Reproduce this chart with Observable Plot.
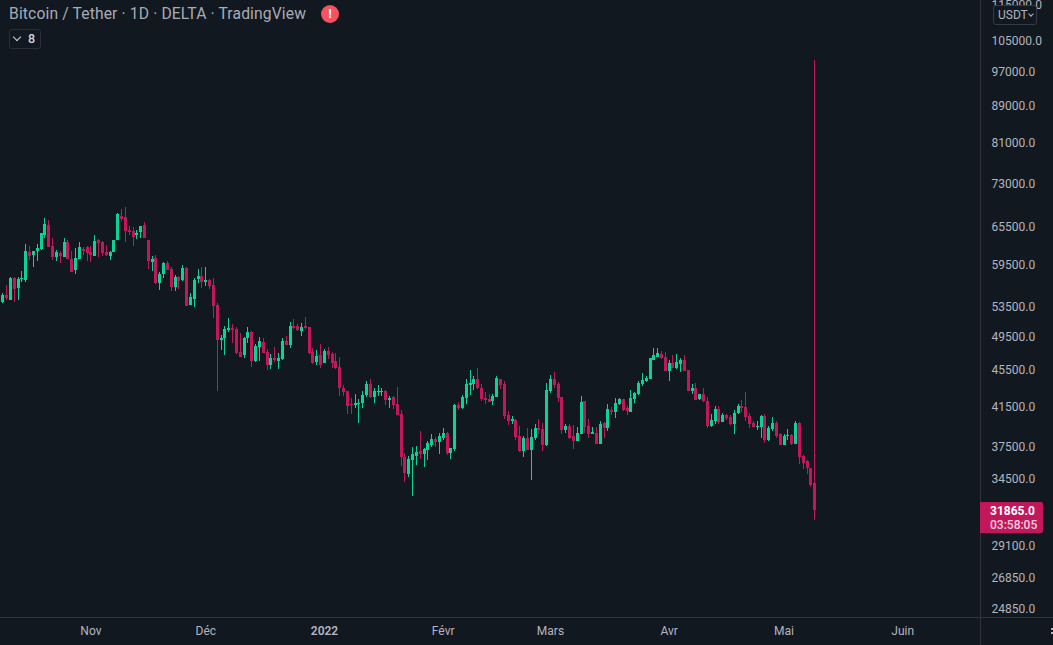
<!DOCTYPE html>
<html><head><meta charset="utf-8">
<script src="https://cdn.jsdelivr.net/npm/d3@7"></script>
<script src="https://cdn.jsdelivr.net/npm/@observablehq/plot@0.6"></script>
<style>
html,body{margin:0;padding:0;background:#121820;overflow:hidden}
#wrap{position:relative;width:1053px;height:645px;font-family:Roboto,sans-serif;overflow:hidden}
#wrap svg{display:block}
.abs{position:absolute;white-space:nowrap;box-sizing:border-box}
</style></head><body>
<div id="wrap"></div>
<script>
const directions =
"GRGRGGGRGG"+"GGRRGRGRRG"+"GRRRGRRRGG"+"GRRRRGGRRG"+"RGGRRGRGRG"+"GGRGRRRGGG"+"RRRGGRGGRR"+"GRGGRGRRGR"+
"RRGRGRRRRR"+"RRGGGGRGGG"+"RGRRRRGGGR"+"GGGRGGRGGR"+"GGGGRRRRGG"+"RRRGRRGRGG"+"RRGGRRRGRR"+"GGRRGRGRGR"+
"GGRRGGGGGG"+"GGRRGRGGRR"+"GRGRRGGRGR"+"RGGRRRRGGR"+"GGRRGGRGRR"+"RRR";
const highs = [
55250,56390,57540,57540,57540,58420,62570,62250,61470,62570,
64340,66830,66490,63530,61620,61470,63530,63200,61470,61940,
62880,62090,62250,62250,64020,63360,63040,62410,61470,63200,
67690,68380,68730,65490,65330,64830,65490,66160,63200,60690,
60850,58280,59770,59920,59020,57840,57690,59320,59020,55250,
57390,58720,59020,59020,57250,57390,53860,49660,50810,51850,
51070,50680,49910,49410,50680,50160,48540,49410,49280,47920,
47320,48170,47440,49280,49530,51330,51720,51070,51200,51980,
50680,48050,47800,48540,47920,48170,47560,47440,46970,43750,
43080,42330,42760,42220,43080,44190,44410,43410,43750,43410,
43190,42540,42540,43520,41050,36810,36530,37370,37470,38920,
37280,37950,38630,38330,38730,39220,38820,37280,41680,41900,
42650,44410,45440,44760,45670,43860,42970,42760,42760,44760,
44410,44190,40950,40430,40120,39420,38430,39220,39120,39620,
40120,39720,43970,44870,45210,44080,42430,39620,39620,39520,
39320,42540,42000,40120,39320,39320,39920,39820,41680,41370,
42330,42330,42220,41470,43190,42970,44190,45100,44760,46840,
48050,48050,47680,47560,46610,47200,47320,46840,47200,45440,
43860,43970,42760,43410,42430,40640,41470,41470,40740,40640,
40530,41050,41680,42110,42970,40740,39920,39920,40530,40640,
39420,40330,39920,38730,38630,39120,38630,39920,39820,36630,
36160,35430,99800];
const bodyTops = [
54970,54970,57390,57390,57250,57390,61470,61310,61470,61940,
64340,65830,65660,62250,61310,61160,62880,62880,60230,60380,
62090,61780,62090,61310,63040,63200,62880,61310,61310,63200,
67520,67170,67000,64830,64670,64340,65490,65660,63200,60230,
60380,57980,59620,59620,58720,57540,57540,58870,58870,54690,
57100,57690,57690,57100,57100,56390,53590,49280,50420,50550,
50550,50420,47560,49280,50040,50040,48290,48910,48780,47560,
46840,46840,46840,48910,48910,50810,50810,50810,50680,50810,
50680,47560,47090,47200,47680,47680,47320,46490,45790,43410,
43080,41680,41790,41790,42650,43860,43860,43080,43080,43080,
43080,42330,42430,41680,40640,36440,36250,36720,36900,37000,
37180,37750,38140,38140,38430,38730,38730,37280,41580,41580,
42430,43860,43970,44410,44410,43410,42330,42220,42540,44520,
44410,43860,40530,40120,40020,38430,38240,38240,38330,39220,
39220,39120,43190,44410,44410,43860,42430,39420,39420,38430,
38730,41900,42000,39420,38820,38730,39620,39720,41160,41050,
41790,42220,42220,41260,42330,42860,43970,44300,44520,46840,
47200,47440,47320,46970,46260,46260,46380,46610,46610,45440,
43410,43410,42760,42760,42000,40020,41160,41160,40530,40530,
40330,40740,41470,41470,41370,40430,39720,39420,40430,40430,
39220,39720,39720,38630,38430,38530,38530,39720,39720,36530,
36070,35430,34110];
const bodyBottoms = [
54000,54550,54270,55810,55950,57250,57100,60690,60850,61470,
61780,64020,62090,60540,60540,60690,60540,60230,58280,58570,
60230,61470,61160,60850,60690,62730,61160,60850,60690,61310,
63200,66660,64670,64510,63690,64020,64510,63530,59920,59770,
56670,56670,57980,58570,56100,56100,56960,57100,53450,53590,
54410,57250,56810,56810,56240,53450,49030,49030,49280,50290,
50290,47440,46970,47200,49280,46490,46490,48170,47440,46030,
46030,46610,46490,46730,48420,48420,50550,50290,50160,50550,
47440,46260,46380,46030,46260,47200,46260,45670,43410,42970,
41470,41580,41580,41680,41790,42650,42430,42430,42970,42970,
42110,42110,41580,40530,36440,34990,34900,36160,36530,36720,
36720,37090,37560,37850,37850,38240,36810,36810,37180,41260,
41260,42330,43750,43860,43410,42220,42110,41900,42000,42430,
43750,40430,39920,39920,38330,37000,37000,37090,37090,38240,
39020,37560,37560,43080,43750,42330,39020,39020,38240,37950,
37950,38630,39320,38630,38630,37660,37660,39220,39220,40840,
40840,41680,41050,40950,40840,42220,42760,43860,44190,44410,
46610,46970,46840,45330,45330,45670,45670,46140,45330,43080,
43080,42110,42220,42000,39420,39420,39920,39820,39820,40220,
39620,39620,40740,41260,40330,39620,39320,39320,39320,38040,
38040,39120,38430,37560,37560,38430,37660,37660,36440,35890,
35430,33940,31865];
const lows = [
53860,54270,54270,54000,54270,56810,56810,60070,59020,59920,
61620,63530,62090,60070,59920,59620,60540,60230,58280,57980,
60230,60850,59920,59770,60690,60540,60690,60690,60070,61310,
63200,66330,62880,64020,62250,63360,63530,63530,58720,58420,
56530,55670,57390,58570,55530,55530,55810,56960,53450,53590,
53320,56670,55950,56240,55810,51850,43080,47800,47200,50040,
48660,47320,46970,46840,48660,45790,46380,46490,47440,45440,
45560,46380,45560,46610,48420,48050,50420,50160,49530,50420,
47320,46140,46030,45670,46260,46730,45670,45560,42540,42540,
40640,40640,41260,39720,41260,42430,42330,41790,42540,42540,
41580,41260,41160,40530,35610,34200,34640,33000,35700,36250,
35510,36160,37370,37370,36720,38040,36630,36250,37000,41050,
41160,41680,42650,43190,43300,42000,41680,41900,41580,42430,
43300,40120,39520,39620,38040,36900,36440,37090,34370,38040,
38630,37000,37470,42860,43410,41900,38630,38730,38140,37180,
37950,38630,38730,38240,38630,37660,37660,38240,38920,40530,
40220,41580,40950,40530,40840,41790,42650,43640,44080,44410,
46610,46970,46730,45330,44190,45670,45560,45210,45330,43080,
42760,42110,42110,41900,39220,39320,39620,39620,39820,40020,
39520,38630,40640,40840,39920,39220,39320,39020,38240,37750,
37950,38920,38240,37560,37560,38040,37560,37660,35800,35340,
34900,33770,31050];
const firstDay = Date.UTC(2021, 9, 9);
const priceTicks = [115000,105000,97000,89000,81000,73000,65500,59500,53500,49500,45500,41500,37500,34500,29100,26850,24850];
const monthTicks = [[2021,10,"Nov"],[2021,11,"Déc"],[2022,1,"Févr"],[2022,2,"Mars"],[2022,3,"Avr"],[2022,4,"Mai"],[2022,5,"Juin"]];
const yearTicks = [[2022,0,"2022"]];
const lastPrice = 31865, countdown = "03:58:05";
const title = "Bitcoin / Tether · 1D · DELTA · TradingView";

const GREEN = "#0ad39a", RED = "#c2185b", TEXT = "#b2b5be", LINE = "#2f333d", BG = "#121820";
const candles = highs.map((high, i) => ({
  date: new Date(firstDay + i * 864e5),
  high, low: lows[i], top: bodyTops[i], bottom: bodyBottoms[i],
  color: directions[i] === "G" ? GREEN : RED
}));
const toDate = ([y, m]) => new Date(Date.UTC(y, m, 1));
const labelMap = new Map([...monthTicks, ...yearTicks].map(t => [+toDate(t), t[2]]));
const fmtDate = d => labelMap.get(+d);

const chart = Plot.plot({
  width: 1053, height: 645,
  marginTop: 0, marginBottom: 28, marginLeft: 0, marginRight: 73,
  style: {background: "transparent", fontFamily: "Roboto, sans-serif", fontSize: "12px"},
  x: {type: "utc", domain: [new Date(Date.UTC(2021, 9, 8, 9, 36)), new Date(Date.UTC(2022, 5, 21, 7, 12))], axis: null},
  y: {type: "log", domain: [116220, 24275], range: [0, 617], axis: null},
  color: {type: "identity"},
  marks: [
    Plot.ruleX(candles, {x: "date", y1: "low", y2: "high", stroke: "color", strokeWidth: 1, shapeRendering: "crispEdges"}),
    Plot.ruleX(candles, {x: "date", y1: "bottom", y2: "top", stroke: "color", strokeWidth: 3, shapeRendering: "crispEdges"}),
    Plot.axisY(priceTicks, {anchor: "right", tickSize: 0, tickPadding: 11, dy: 0.5, label: null, fill: TEXT, fontSize: 12, tickFormat: d => d.toFixed(1)}),
    Plot.axisX(monthTicks.map(toDate), {anchor: "bottom", tickSize: 0, tickPadding: 9, label: null, fill: TEXT, fontSize: 12, tickFormat: fmtDate}),
    Plot.axisX(yearTicks.map(toDate), {anchor: "bottom", tickSize: 0, tickPadding: 9, label: null, fill: TEXT, fontSize: 12, fontWeight: 600, tickFormat: fmtDate})
  ]
});
const wrap = document.getElementById("wrap");
wrap.appendChild(chart);
const add = (css, html = "") => {
  const d = document.createElement("div");
  d.className = "abs";
  d.style.cssText = css;
  d.innerHTML = html;
  wrap.appendChild(d);
};
// panel separators
add(`left:980px;top:0;width:1px;height:645px;background:${LINE}`);
add(`left:0;top:617px;width:1053px;height:1px;background:${LINE}`);
// header
add(`left:9px;top:5px;font-size:15.7px;letter-spacing:.12px;line-height:18px;color:#a7abb6`, title);
add(`left:321px;top:5px;width:18px;height:18px;border-radius:50%;background:#f7525f;color:#fff;font-size:13px;font-weight:700;line-height:18px;text-align:center`, "!");
add(`left:9px;top:29px;width:32px;height:20px;border:1px solid #2a2e39;border-radius:3px;color:#d1d4dc;font-size:12.5px;font-weight:500;line-height:18px;padding-left:18px`, "8");
add(`left:14px;top:34px;width:6px;height:6px;border-right:1px solid #d1d4dc;border-bottom:1px solid #d1d4dc;transform:rotate(45deg)`);
// currency button
add(`left:993px;top:5px;width:44px;height:20px;border:1px solid #363a45;border-radius:3px;background:${BG};color:${TEXT};font-size:12px;line-height:18px;padding-left:4px`, "USDT");
add(`left:1029px;top:12px;width:4px;height:4px;border-right:1px solid ${TEXT};border-bottom:1px solid ${TEXT};transform:rotate(45deg)`);
// last price tag
add(`left:980px;top:502px;width:63px;height:31px;background:${RED};border-radius:0 2px 2px 0;text-align:left;padding:2px 0 0 10px;font-size:12px;line-height:14px;color:#fff;font-weight:700`,
  `${lastPrice.toFixed(1)}<br><span style="opacity:.78;font-weight:500">${countdown}</span>`);
// corner handle
add(`left:1051px;top:628px;width:2px;height:2px;background:${TEXT}`);
add(`left:1051px;top:632px;width:2px;height:2px;background:${TEXT}`);
</script>
</body></html>
